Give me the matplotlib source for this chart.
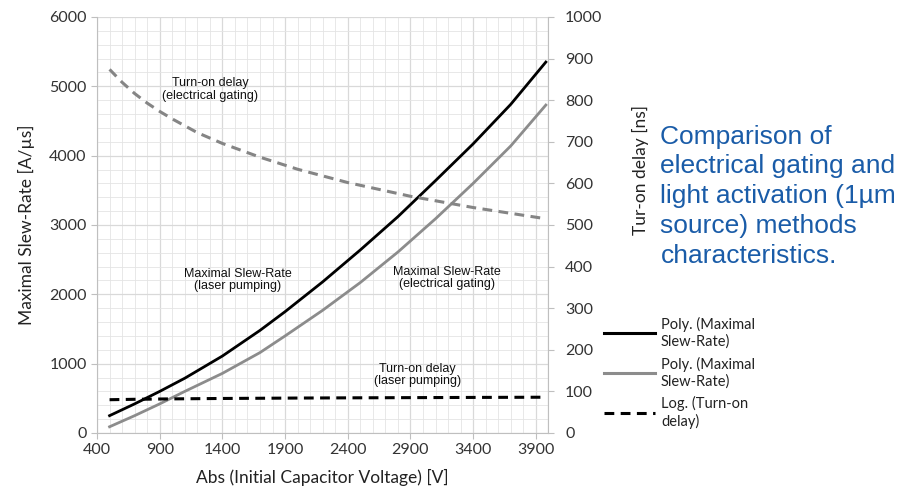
import matplotlib.pyplot as plt
from matplotlib.ticker import MultipleLocator
from matplotlib.lines import Line2D

x_slew = [500, 700, 900, 1100, 1400, 1700, 1900, 2200, 2500, 2800, 3100, 3400, 3700, 3980]
slew_laser = [250, 420, 600, 790, 1110, 1480, 1750, 2180, 2640, 3120, 3640, 4170, 4740, 5350]
slew_elec = [90, 250, 420, 600, 860, 1160, 1400, 1770, 2170, 2610, 3090, 3600, 4140, 4730]

x_delay = [500, 600, 700, 800, 900, 1000, 1200, 1400, 1700, 2000, 2400, 2900, 3400, 3980]
delay_elec = [874, 843, 816, 793, 773, 755, 722, 696, 663, 634, 602, 569, 542, 515]
delay_laser = [80, 80.5, 81, 81.3, 81.7, 82, 82.5, 83, 83.5, 84, 84.5, 85, 85.5, 86]

grid_c = "#d9d9d9"
axis_c = "#bfbfbf"
tick_font = "Lato"
note_font = "Liberation Sans"
dash = (0, (3.2, 2.1))

fig = plt.figure(figsize=(9.01, 4.94), dpi=100)
ax = fig.add_axes([0.1077, 0.1235, 0.5009, 0.8421])
ax2 = ax.twinx()

ax.set_xlim(400, 4000)
ax.set_ylim(0, 6000)
ax2.set_ylim(0, 1000)
ax.set_xticks(range(400, 4000, 500))
ax.xaxis.set_minor_locator(MultipleLocator(100))
ax.yaxis.set_major_locator(MultipleLocator(1000))
ax.yaxis.set_minor_locator(MultipleLocator(200))
ax2.yaxis.set_major_locator(MultipleLocator(100))

ax.grid(True, which="major", color=grid_c, lw=0.9)
ax.grid(True, which="minor", color="#e4e4e4", lw=0.6)
ax.axvline(4000, color=grid_c, lw=0.9)
ax.set_axisbelow(True)

for a in (ax, ax2):
    for s in a.spines.values():
        s.set_visible(False)
ax.spines["left"].set_visible(True)
ax.spines["bottom"].set_visible(True)
ax2.spines["right"].set_visible(True)
ax.spines["left"].set_color(axis_c)
ax.spines["bottom"].set_color(axis_c)
ax2.spines["right"].set_color(axis_c)

for a in (ax, ax2):
    a.tick_params(which="major", length=4, color=axis_c, labelsize=11.5,
                  labelcolor="#333333")
    a.tick_params(which="minor", length=0)
    for lab in a.get_xticklabels() + a.get_yticklabels():
        lab.set_fontfamily(tick_font)
ax2.tick_params(axis="y", pad=8)

ax.plot(x_slew, slew_laser, color="black", lw=2.0)
ax.plot(x_slew, slew_elec, color="#8c8c8c", lw=2.0)
ax2.plot(x_delay, delay_elec, color="#858585", lw=2.2, ls=dash)
ax2.plot(x_delay, delay_laser, color="black", lw=2.2, ls=dash)

ax.set_xlabel("Abs (Initial Capacitor Voltage) [V]", fontsize=12.5,
              fontfamily=tick_font, color="#222222", labelpad=8)
ax.set_ylabel("Maximal Slew-Rate [A/µs]", fontsize=12.5,
              fontfamily=tick_font, color="#222222", labelpad=10)
fig.text(0.711, 0.655, "Tur-on delay [ns]", rotation=90, fontsize=12.5,
         fontfamily=tick_font, color="#222222", ha="center", va="center")

note = dict(fontsize=9, fontfamily=note_font, ha="center", va="center",
            color="#111111", linespacing=1.1)
ax.text(1305, 4960, "Turn-on delay\n(electrical gating)", **note)
ax.text(1522, 2207, "Maximal Slew-Rate\n(laser pumping)", **note)
ax.text(3188, 2236, "Maximal Slew-Rate\n(electrical gating)", **note)
ax.text(2956, 837, "Turn-on delay\n(laser pumping)", **note)

fig.text(0.733, 0.603,
         "Comparison of\nelectrical gating and\nlight activation (1µm\nsource) methods\ncharacteristics.",
         fontsize=19, fontfamily=note_font, color="#1a5ca8", ha="left",
         va="center", linespacing=1.3)

handles = [
    Line2D([], [], color="black", lw=2.2),
    Line2D([], [], color="#8c8c8c", lw=2.2),
    Line2D([], [], color="black", lw=2.2, ls=dash),
]
labels = ["Poly. (Maximal\nSlew-Rate)", "Poly. (Maximal\nSlew-Rate)",
          "Log. (Turn-on\ndelay)"]
leg = fig.legend(handles, labels, loc="upper left",
                 bbox_to_anchor=(0.656, 0.385), frameon=False,
                 handlelength=3.5, handletextpad=0.4, labelspacing=0.55,
                 prop={"family": tick_font, "size": 10.5})
for t in leg.get_texts():
    t.set_color("#222222")
    t.set_linespacing(1.2)

fig.savefig("out.png", dpi=100)
